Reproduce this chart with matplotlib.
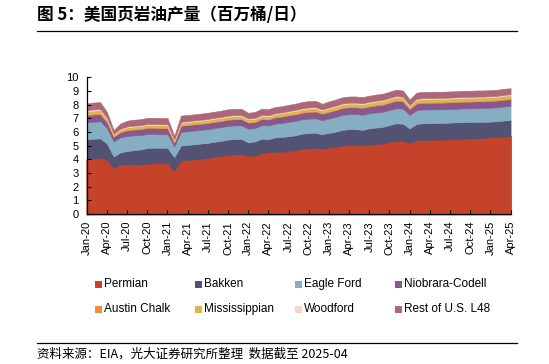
import matplotlib
matplotlib.use('Agg')
import matplotlib.pyplot as plt
from matplotlib.patches import Rectangle
import pandas as pd

plt.rcParams['font.family'] = ['Liberation Sans', 'Noto Sans CJK SC', 'DejaVu Sans']

months = pd.date_range('2020-01-01', '2025-04-01', freq='MS')
month_labels = [m.strftime('%b-%y') for m in months]

# million barrels per day, Jan-20 .. Apr-25
permian = [4.00, 4.05, 4.12, 3.95, 3.38, 3.60, 3.65, 3.62, 3.62, 3.68, 3.70, 3.72,
           3.75, 3.15, 3.90, 3.95, 4.00, 4.05, 4.10, 4.18, 4.25, 4.32, 4.36, 4.38,
           4.25, 4.30, 4.45, 4.52, 4.55, 4.55, 4.60, 4.65, 4.75, 4.80, 4.82, 4.78,
           4.85, 4.90, 5.00, 5.05, 5.05, 5.00, 5.08, 5.12, 5.15, 5.25, 5.35, 5.35,
           5.20, 5.38, 5.42, 5.42, 5.44, 5.44, 5.46, 5.48, 5.50, 5.52, 5.54, 5.56,
           5.60, 5.63, 5.66, 5.70]
bakken = [1.45, 1.45, 1.40, 1.20, 0.82, 0.90, 0.95, 1.05, 1.10, 1.15, 1.15, 1.12,
          1.10, 1.00, 1.10, 1.10, 1.10, 1.10, 1.10, 1.10, 1.10, 1.12, 1.12, 1.10,
          0.98, 1.00, 1.05, 0.95, 1.05, 1.08, 1.08, 1.10, 1.12, 1.12, 1.12, 1.05,
          1.08, 1.12, 1.15, 1.15, 1.15, 1.15, 1.18, 1.20, 1.22, 1.25, 1.28, 1.25,
          1.05, 1.20, 1.22, 1.22, 1.22, 1.22, 1.22, 1.22, 1.22, 1.20, 1.20, 1.18,
          1.15, 1.15, 1.17, 1.17]
eagle_ford = [1.25, 1.25, 1.25, 1.12, 1.10, 1.10, 1.10, 1.08, 1.05, 1.02, 1.00, 0.98,
              0.98, 0.78, 1.00, 1.00, 1.00, 1.00, 1.00, 1.00, 1.00, 1.00, 1.00, 1.00,
              1.00, 0.98, 1.00, 1.00, 1.00, 1.02, 1.05, 1.05, 1.05, 1.05, 1.05, 1.02,
              1.05, 1.08, 1.10, 1.10, 1.10, 1.10, 1.10, 1.10, 1.10, 1.10, 1.10, 1.10,
              0.98, 1.00, 1.00, 1.00, 0.99, 0.99, 0.99, 0.99, 1.00, 1.00, 1.00, 1.00,
              1.02, 1.02, 1.03, 1.03]
niobrara = [0.50, 0.52, 0.52, 0.45, 0.35, 0.38, 0.42, 0.42, 0.43, 0.44, 0.45, 0.45,
            0.45, 0.30, 0.45, 0.45, 0.45, 0.45, 0.45, 0.45, 0.45, 0.45, 0.45, 0.45,
            0.45, 0.44, 0.45, 0.44, 0.46, 0.47, 0.48, 0.48, 0.48, 0.49, 0.50, 0.48,
            0.48, 0.49, 0.50, 0.50, 0.50, 0.50, 0.50, 0.51, 0.52, 0.53, 0.54, 0.52,
            0.45, 0.49, 0.49, 0.49, 0.49, 0.49, 0.49, 0.49, 0.49, 0.49, 0.49, 0.49,
            0.49, 0.49, 0.49, 0.49]
austin_chalk = [0.07, 0.07, 0.07, 0.06, 0.04, 0.05, 0.05, 0.05, 0.05, 0.05, 0.05, 0.05,
                0.05, 0.03, 0.05, 0.05, 0.05, 0.05, 0.05, 0.05, 0.05, 0.05, 0.05, 0.05,
                0.05, 0.05, 0.05, 0.05, 0.05, 0.05, 0.06, 0.06, 0.06, 0.06, 0.06, 0.05,
                0.06, 0.06, 0.06, 0.06, 0.06, 0.06, 0.06, 0.07, 0.07, 0.07, 0.07, 0.07,
                0.05, 0.07, 0.07, 0.07, 0.07, 0.07, 0.07, 0.07, 0.07, 0.07, 0.07, 0.07,
                0.07, 0.07, 0.07, 0.07]
mississippian = [0.22, 0.22, 0.22, 0.18, 0.12, 0.15, 0.16, 0.17, 0.17, 0.17, 0.17, 0.17,
                 0.17, 0.12, 0.17, 0.17, 0.17, 0.17, 0.18, 0.18, 0.18, 0.18, 0.18, 0.18,
                 0.18, 0.18, 0.18, 0.18, 0.19, 0.19, 0.19, 0.19, 0.20, 0.20, 0.20, 0.19,
                 0.20, 0.20, 0.20, 0.21, 0.21, 0.21, 0.21, 0.21, 0.21, 0.22, 0.22, 0.21,
                 0.18, 0.21, 0.21, 0.21, 0.21, 0.21, 0.21, 0.21, 0.21, 0.21, 0.21, 0.21,
                 0.21, 0.21, 0.22, 0.22]
woodford = [0.09, 0.09, 0.09, 0.08, 0.05, 0.06, 0.07, 0.07, 0.07, 0.07, 0.07, 0.07,
            0.07, 0.05, 0.07, 0.07, 0.07, 0.07, 0.07, 0.07, 0.07, 0.07, 0.07, 0.07,
            0.07, 0.07, 0.07, 0.07, 0.07, 0.07, 0.07, 0.07, 0.07, 0.07, 0.07, 0.07,
            0.07, 0.07, 0.07, 0.07, 0.07, 0.07, 0.07, 0.07, 0.07, 0.07, 0.07, 0.07,
            0.06, 0.07, 0.07, 0.07, 0.07, 0.07, 0.07, 0.07, 0.07, 0.07, 0.07, 0.07,
            0.07, 0.07, 0.07, 0.07]
rest_l48 = [0.50, 0.50, 0.50, 0.42, 0.28, 0.38, 0.42, 0.43, 0.44, 0.45, 0.45, 0.45,
            0.45, 0.28, 0.45, 0.45, 0.45, 0.45, 0.45, 0.45, 0.46, 0.46, 0.46, 0.45,
            0.42, 0.44, 0.45, 0.45, 0.45, 0.45, 0.45, 0.46, 0.46, 0.46, 0.46, 0.42,
            0.44, 0.45, 0.45, 0.45, 0.45, 0.45, 0.45, 0.45, 0.45, 0.45, 0.46, 0.45,
            0.40, 0.45, 0.45, 0.45, 0.45, 0.45, 0.45, 0.45, 0.45, 0.45, 0.45, 0.45,
            0.44, 0.44, 0.44, 0.44]

labels = ['Permian', 'Bakken', 'Eagle Ford', 'Niobrara-Codell',
          'Austin Chalk', 'Mississippian', 'Woodford', 'Rest of U.S. L48']
colors = ['#C4432A', '#545272', '#85AEC3', '#87588C',
          '#F08C3C', '#DDB54E', '#F9D3C6', '#AC6878']
series = [permian, bakken, eagle_ford, niobrara,
          austin_chalk, mississippian, woodford, rest_l48]

fig = plt.figure(figsize=(5.49, 3.64), dpi=100)
ax = fig.add_axes([0.158, 0.412, 0.772, 0.376])

x = list(range(len(months)))
polys = ax.stackplot(x, *series, colors=colors, labels=labels, linewidth=0.4)
for p, c in zip(polys, colors):
    p.set_edgecolor(c)
polys[0].set_linewidth(1.2)
polys[0].set_clip_on(False)

ax.set_xlim(0, len(months) - 1)
ax.set_ylim(0, 10)
ax.set_yticks(range(0, 11))
ax.set_xticks(x[::3])
ax.set_xticklabels(month_labels[::3], rotation=90)
ax.tick_params(axis='both', direction='in', length=3, width=0.8, labelsize=8)
ax.tick_params(axis='x', pad=5)
ax.tick_params(axis='y', pad=6)
for s in ['top', 'right']:
    ax.spines[s].set_visible(False)
for s in ['left', 'bottom']:
    ax.spines[s].set_linewidth(0.9)
    ax.spines[s].set_zorder(5)

# legend, 2 rows x 4 columns
col_x = [95, 195, 295, 395]
row_y = [284, 309]
W, H = 549, 364
for i, (lab, c) in enumerate(zip(labels, colors)):
    px = col_x[i % 4]
    py = row_y[i // 4]
    fig.patches.append(Rectangle((px / W, (H - py - 3.5) / H), 7 / W, 7 / H,
                                 transform=fig.transFigure, facecolor=c, edgecolor='none'))
    fig.text((px + 9) / W, (H - py) / H, lab, fontsize=8.5, va='center', ha='left')

# title and source
fig.text(37 / W, 1 - 15 / H, '图 5：美国页岩油产量（百万桶/日）',
         fontsize=12, fontweight='bold', va='center', ha='left',
         family=['Noto Sans CJK SC', 'DejaVu Sans'])
fig.add_artist(plt.Line2D([37 / W, 517 / W], [1 - 31 / H, 1 - 31 / H],
                          color='black', lw=0.9, transform=fig.transFigure))
fig.add_artist(plt.Line2D([37 / W, 517 / W], [1 - 343 / H, 1 - 343 / H],
                          color='black', lw=0.9, transform=fig.transFigure))
fig.text(37 / W, 1 - 354 / H, '资料来源：EIA，光大证券研究所整理  数据截至 2025-04',
         fontsize=9, va='center', ha='left',
         family=['Noto Sans CJK SC', 'DejaVu Sans'])

fig.savefig('out.png', dpi=100)
